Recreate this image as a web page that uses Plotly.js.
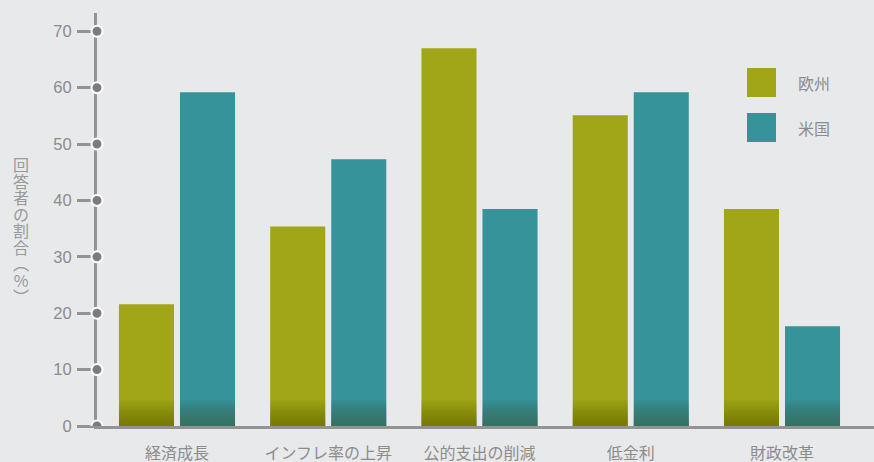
<!DOCTYPE html>
<html>
<head>
<meta charset="utf-8">
<script src="https://cdn.plot.ly/plotly-3.0.1.min.js"></script>
<style>
  html, body { margin: 0; padding: 0; background: #e8e9eb; }
  #chart { width: 874px; height: 462px; }
</style>
</head>
<body>
<div id="chart"></div>
<script>
// ---- data ----
const categories = ['経済成長', 'インフレ率の上昇', '公的支出の削減', '低金利', '財政改革'];
const seriesNames = ['欧州', '米国'];
const europe = [21.6, 35.4, 67.0, 55.1, 38.5];
const usa = [59.2, 47.3, 38.5, 59.2, 17.7];
const yTicks = [0, 10, 20, 30, 40, 50, 60, 70];
const yTitle = '回答者の割合︵%︶';

// ---- styling ----
const olive = '#a0a617';
const teal = '#36939a';
const axisGray = '#939393';
const textGray = '#8c8c8c';
const bg = '#e8e9eb';
const fontFam = '"Liberation Sans", Arial, "Noto Sans CJK JP", sans-serif';
const cjkFam = '"Noto Sans CJK JP", "Liberation Sans", sans-serif';

const W = 874, H = 462;
const M = {l: 97, r: 0, t: 13, b: 36};
const pw = W - M.l - M.r, ph = H - M.t - M.b;
const px2x = p => (p - M.l) / pw;
const py2y = p => (H - M.b - p) / ph;

const idx = categories.map((c, i) => i);

const traces = [
  {type: 'bar', name: seriesNames[0], x: idx, y: europe, offsetgroup: 'eu',
   marker: {color: olive, line: {width: 0}}, hoverinfo: 'y'},
  {type: 'bar', name: seriesNames[1], x: idx, y: usa, offsetgroup: 'us',
   marker: {color: teal, line: {width: 0}}, hoverinfo: 'y'}
];
// bottom shading overlays (darkening gradient near the base of each bar)
const layers = 24, shadeH = 4.8;
['eu', 'us'].forEach(g => {
  for (let k = 1; k <= layers; k++) {
    traces.push({type: 'bar', x: idx, y: idx.map(() => shadeH * k / layers), offsetgroup: g,
      marker: {color: 'rgba(40,40,0,0.014)', line: {width: 0}}, hoverinfo: 'skip', showlegend: false});
  }
});

const shapes = [];
const annotations = [];
// tick circles on the y axis
yTicks.forEach(v => {
  shapes.push({type: 'circle', xref: 'paper', yref: 'y', xsizemode: 'pixel', ysizemode: 'pixel',
    xanchor: 0, yanchor: v, x0: -5.5, x1: 5.5, y0: -5.5, y1: 5.5,
    fillcolor: '#7c7c7e', line: {color: '#ffffff', width: 2}, layer: 'above'});
});
// legend (swatches + labels)
const legendColors = [olive, teal];
const legendTop = [68, 113];
seriesNames.forEach((n, i) => {
  const top = legendTop[i];
  shapes.push({type: 'rect', xref: 'paper', yref: 'paper',
    x0: px2x(747), x1: px2x(776), y0: py2y(top + 29), y1: py2y(top),
    fillcolor: legendColors[i], line: {width: 0}});
  annotations.push({xref: 'paper', yref: 'paper', x: px2x(796), y: py2y(top + 15),
    xanchor: 'left', yanchor: 'middle', showarrow: false, text: n,
    font: {family: cjkFam, size: 16, color: textGray}});
});
// vertical y-axis title: one character per line in a single text block
const titleSize = 16, titlePitch = 16.5;
annotations.push({xref: 'paper', yref: 'paper', x: px2x(21), y: py2y(150),
  xanchor: 'center', yanchor: 'top', showarrow: false, align: 'center',
  text: Array.from(yTitle).join('<br>'), name: 'ytitle',
  font: {family: cjkFam, size: titleSize, color: '#999999'}});

const layout = {
  width: W, height: H,
  margin: M,
  paper_bgcolor: bg, plot_bgcolor: bg,
  barmode: 'group', bargap: 0.193, bargroupgap: 0.098,
  showlegend: false,
  font: {family: fontFam, color: textGray, size: 16},
  xaxis: {
    range: [-(177 - M.l) / 151.25, 4 + (W - 782) / 151.25],
    tickmode: 'array', tickvals: idx, ticktext: categories,
    tickfont: {family: cjkFam, size: 16, color: textGray},
    ticks: '', showgrid: false, zeroline: false,
    showline: true, linecolor: axisGray, linewidth: 3,
    ticklabelstandoff: 11, fixedrange: true
  },
  yaxis: {
    range: [0, (H - M.b - M.t) / 5.639],
    tickmode: 'array', tickvals: yTicks,
    tickfont: {family: fontFam, size: 16.5, color: textGray},
    ticks: 'outside', ticklen: 17, tickwidth: 3, tickcolor: axisGray,
    showgrid: false, zeroline: false,
    showline: true, linecolor: axisGray, linewidth: 3,
    ticklabelstandoff: 2, fixedrange: true
  },
  shapes: shapes,
  annotations: annotations
};

Plotly.newPlot('chart', traces, layout, {displayModeBar: false, staticPlot: true}).then(gd => {
  // tighten line spacing of the stacked vertical title
  const ratio = titlePitch / (titleSize * 1.3);
  gd.querySelectorAll('.annotation-text').forEach(t => {
    const lines = t.querySelectorAll('tspan.line');
    if (lines.length < 5) return;
    lines.forEach(l => {
      const dy = l.getAttribute('dy');
      if (dy && /em$/.test(dy)) l.setAttribute('dy', (parseFloat(dy) * ratio) + 'em');
    });
  });
});
</script>
</body>
</html>
